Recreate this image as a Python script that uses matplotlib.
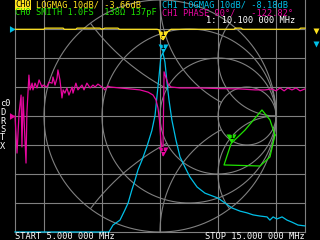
import matplotlib
matplotlib.use('Agg')
import matplotlib.pyplot as plt
import matplotlib.transforms as mtransforms
import numpy as np


# NanoVNA trace colours
YELLOW = '#ffe31f'
CYAN = '#00bfe7'
GREEN = '#1fe300'
MAGENTA = '#e7079f'
GRID = '#808080'

START_MHZ = 5.0
STOP_MHZ = 15.0
MARKER_MHZ = 10.1
grid_mhz = [6, 8, 10, 12, 14]
grid_db = [0, -10, -20, -30, -40, -50, -60, -70]

# CH0 LOGMAG (S11)
s11_mhz = [5.0, 6.0, 6.03, 6.66, 6.7, 7.1, 7.14, 7.93, 8.0, 8.1, 8.55, 8.6, 9.9, 9.97,
           10.03, 10.1, 10.17, 10.24, 10.31, 10.38, 12.55, 12.6, 12.8, 12.85, 14.8, 14.85, 15.0]
s11_db = [-0.1, -0.1, 0.3, 0.3, -0.1, -0.1, 0.3, 0.3, -0.1, 0.3, 0.3, -0.1, -0.1, -0.33,
          -3.1, -3.66, -2.6, -1.1, -0.6, -0.1, -0.1, 0.3, 0.3, -0.1, -0.1, 0.3, 0.3]

# CH1 LOGMAG (S21)
s21_mhz = [5.0, 7.93, 8.24, 8.38, 8.62, 8.79, 8.90, 9.03, 9.14, 9.24, 9.38, 9.55, 9.72, 9.83,
           9.90, 9.97, 10.03, 10.10, 10.17, 10.24, 10.31, 10.41, 10.55, 10.69, 10.86, 11.03,
           11.28, 11.55, 12.00, 12.24, 12.48, 12.76, 13.00, 13.21, 13.45, 13.69, 13.79, 13.90,
           14.03, 14.21, 14.38, 14.55, 14.76, 15.00]
s21_db = [-70, -70, -70, -67.6, -65.9, -62.4, -60, -55.5, -52.1, -48.6, -45.2, -40.5, -35, -29.7,
          -22.8, -15.9, -9.7, -8.18, -11.4, -18.3, -24.5, -31.4, -38.3, -44.1, -47.6, -51,
          -54.5, -56.6, -58.3, -60, -61.7, -62.8, -63.4, -64.1, -64.5, -64.8, -65.9, -64.8,
          -65.5, -64.8, -65.9, -66.6, -67.6, -67.9]

# CH1 PHASE (S21)
ph_mhz = [5.00, 5.07, 5.14, 5.21, 5.24, 5.28, 5.31, 5.38, 5.41, 5.48, 5.52, 5.59, 5.62, 5.69,
          5.76, 5.83, 5.93, 5.97, 6.10, 6.17, 6.28, 6.31, 6.38, 6.45, 6.48, 6.55, 6.62, 6.66,
          6.72, 6.79, 6.86, 6.97, 7.00, 7.10, 7.17, 7.31, 7.38, 7.48, 7.59, 7.69, 7.76, 7.86,
          8.00, 8.10, 8.21, 8.28, 8.62, 8.97, 9.31, 9.59, 9.76, 9.86, 9.93, 9.98, 10.03, 10.10,
          10.14, 10.21, 10.28, 10.38, 10.69, 11.38, 12.07, 12.76, 13.28, 13.62, 13.86, 14.00,
          14.14, 14.28, 14.41, 14.55, 14.69, 14.83, 15.00]
ph_deg = [0, -115, 9, 65, -96, 59, -6, -146, 9, 127, 81, 102, 81, 102,
          87, 112, 90, 96, 90, 105, 102, 121, 96, 118, 143, 112, 56, 81,
          71, 87, 65, 90, 71, 102, 81, 96, 81, 102, 87, 96, 90, 99,
          90, 81, 93, 90, 87, 84, 81, 74, 65, 50, 25, -12, -75, -122.82,
          137, 118, 99, 90, 87, 87, 85, 84, 81, 81, 84, 78,
          87, 78, 87, 81, 87, 78, 84]

# CH0 SMITH, reflection coefficient
smith_re = [0.991, 0.948, 0.862, 0.552, 0.613, 0.733, 0.879, 0.948, 0.991]
smith_im = [-0.164, -0.353, -0.431, -0.422, -0.237, -0.121, 0.052, -0.034, -0.164]
smith_mark = 4

W, H = 320, 240
fig = plt.figure(figsize=(3.2, 2.4), dpi=100, facecolor='black')


def px_axes(x0, y0, w, h, z):
    a = fig.add_axes([x0 / W, 1 - (y0 + h) / H, w / W, h / H], zorder=z)
    a.set_facecolor('none')
    a.axis('off')
    return a


# rectangular grid
gr = px_axes(15, 0, 290, 232, 1)
gr.set_xlim(START_MHZ, STOP_MHZ)
gr.set_ylim(-70, 10)
for f in grid_mhz + [START_MHZ, STOP_MHZ]:
    gr.axvline(f, color=GRID, lw=0.8, clip_on=False)
for d in grid_db:
    gr.axhline(d, color=GRID, lw=0.8, clip_on=False)

# smith chart
sm = px_axes(44, 0, 232, 232, 2)
sm.set_xlim(-1, 1)
sm.set_ylim(-1, 1)
t = np.linspace(0, 2 * np.pi, 2000)


def arc(cx, cy, r, keep=None):
    x = cx + r * np.cos(t)
    y = cy + r * np.sin(t)
    if keep is not None:
        ok = keep(x, y)
        x = np.where(ok, x, np.nan)
        y = np.where(ok, y, np.nan)
    sm.plot(x, y, color=GRID, lw=0.8, clip_on=False)


inside = lambda x, y: x ** 2 + y ** 2 <= 1.0001
out_r3 = lambda x, y: (x - 0.75) ** 2 + y ** 2 >= 0.0624
out_r1 = lambda x, y: (x - 0.5) ** 2 + y ** 2 >= 0.2499

arc(0, 0, 1)
arc(1, 0.5, 0.5, inside)
arc(1, -0.5, 0.5, inside)
arc(0.75, 0, 0.25)
arc(1, 1, 1, lambda x, y: inside(x, y) & out_r3(x, y))
arc(1, -1, 1, lambda x, y: inside(x, y) & out_r3(x, y))
arc(0.5, 0, 0.5)
arc(1, 2, 2, lambda x, y: inside(x, y) & out_r1(x, y))
arc(1, -2, 2, lambda x, y: inside(x, y) & out_r1(x, y))
arc(0.25, 0, 0.75)
sm.plot(smith_re, smith_im, color=GREEN, lw=0.9, clip_on=False)

# log mag and phase traces
ax = px_axes(15, 0, 290, 232, 3)
ax.set_xlim(START_MHZ, STOP_MHZ)
ax.set_ylim(-70, 10)
ax.plot(s11_mhz, s11_db, color=YELLOW, lw=0.9, clip_on=False)
ax.plot(s21_mhz, s21_db, color=CYAN, lw=0.9, clip_on=False)

ap = px_axes(15, 0, 290, 232, 4)
ap.set_xlim(START_MHZ, STOP_MHZ)
ap.set_ylim(-360, 360)
ap.plot(ph_mhz, ph_deg, color=MAGENTA, lw=0.9, clip_on=False)

# markers
tri = [(0, 0), (-0.55, 1), (0.55, 1), (0, 0)]


def marker(a, x, y, col):
    a.plot([x], [y], marker=tri, ms=13, color=col, mec='none', clip_on=False, zorder=5)
    a.annotate('1', xy=(x, y), xytext=(0, 6), textcoords='offset pixels', ha='center',
               va='center', color='black', fontsize=5, family='DejaVu Sans Mono',
               fontweight='bold', zorder=6)


m11 = np.interp(MARKER_MHZ, s11_mhz, s11_db)
m21 = np.interp(MARKER_MHZ, s21_mhz, s21_db)
mph = np.interp(MARKER_MHZ, ph_mhz, ph_deg)
marker(ax, MARKER_MHZ, m11, YELLOW)
marker(ax, MARKER_MHZ, m21, CYAN)
marker(ap, MARKER_MHZ, mph, MAGENTA)
marker(sm, smith_re[smith_mark], smith_im[smith_mark], GREEN)

# reference position arrows on the left edge
ref = [(0, 0), (-1, 0.6), (-1, -0.6), (0, 0)]
ax.plot([0], [0], transform=mtransforms.blended_transform_factory(ax.transAxes, ax.transData),
        marker=ref, ms=8, color=CYAN, mec='none', clip_on=False)
ap.plot([0], [0], transform=mtransforms.blended_transform_factory(ap.transAxes, ap.transData),
        marker=ref, ms=8, color=MAGENTA, mec='none', clip_on=False)

# screen texts
scr = px_axes(0, 0, 320, 240, 10)
scr.set_xlim(0, W)
scr.set_ylim(H, 0)
fnt = dict(family='DejaVu Sans Mono', fontsize=6.2, va='baseline', ha='left')
cw = 0.602 * 6.2 * 100 / 72  # monospace advance in pixels
scr.text(15, 7.3, 'CH0', color='black',
         bbox=dict(boxstyle='square,pad=0.05', facecolor=YELLOW, edgecolor='none'), **fnt)
scr.text(15 + 4 * cw, 7.3, 'LOGMAG 10dB/ %.2fdB' % m11, color=YELLOW, **fnt)
scr.text(162, 7.3, 'CH1 LOGMAG 10dB/ %.2fdB' % m21, color=CYAN, **fnt)
scr.text(15, 15.3, 'CH0 SMITH 1.0FS  138Ω 137pF', color=GREEN, **fnt)
scr.text(162, 15.3, 'CH1 PHASE 90°/   %.2f°' % mph, color=MAGENTA, **fnt)
scr.text(206, 22.8, '1: 10.100 000 MHz', color='white', **fnt)
scr.text(15, 239, 'START 5.000 000 MHz', color='white', **fnt)
scr.text(205, 239, 'STOP 15.000 000 MHz', color='white', **fnt)
for i, s in enumerate(['c0', 'D', 'R', 'S', 'T', 'X']):
    scr.text(0, 106.5 + 8.5 * i, s, color='white', **fnt)
scr.plot([316], [31], marker='v', ms=4, color=YELLOW, mec='none')
scr.plot([316], [44], marker='v', ms=4, color=CYAN, mec='none')

fig.savefig('out.png', dpi=100, facecolor='black')
